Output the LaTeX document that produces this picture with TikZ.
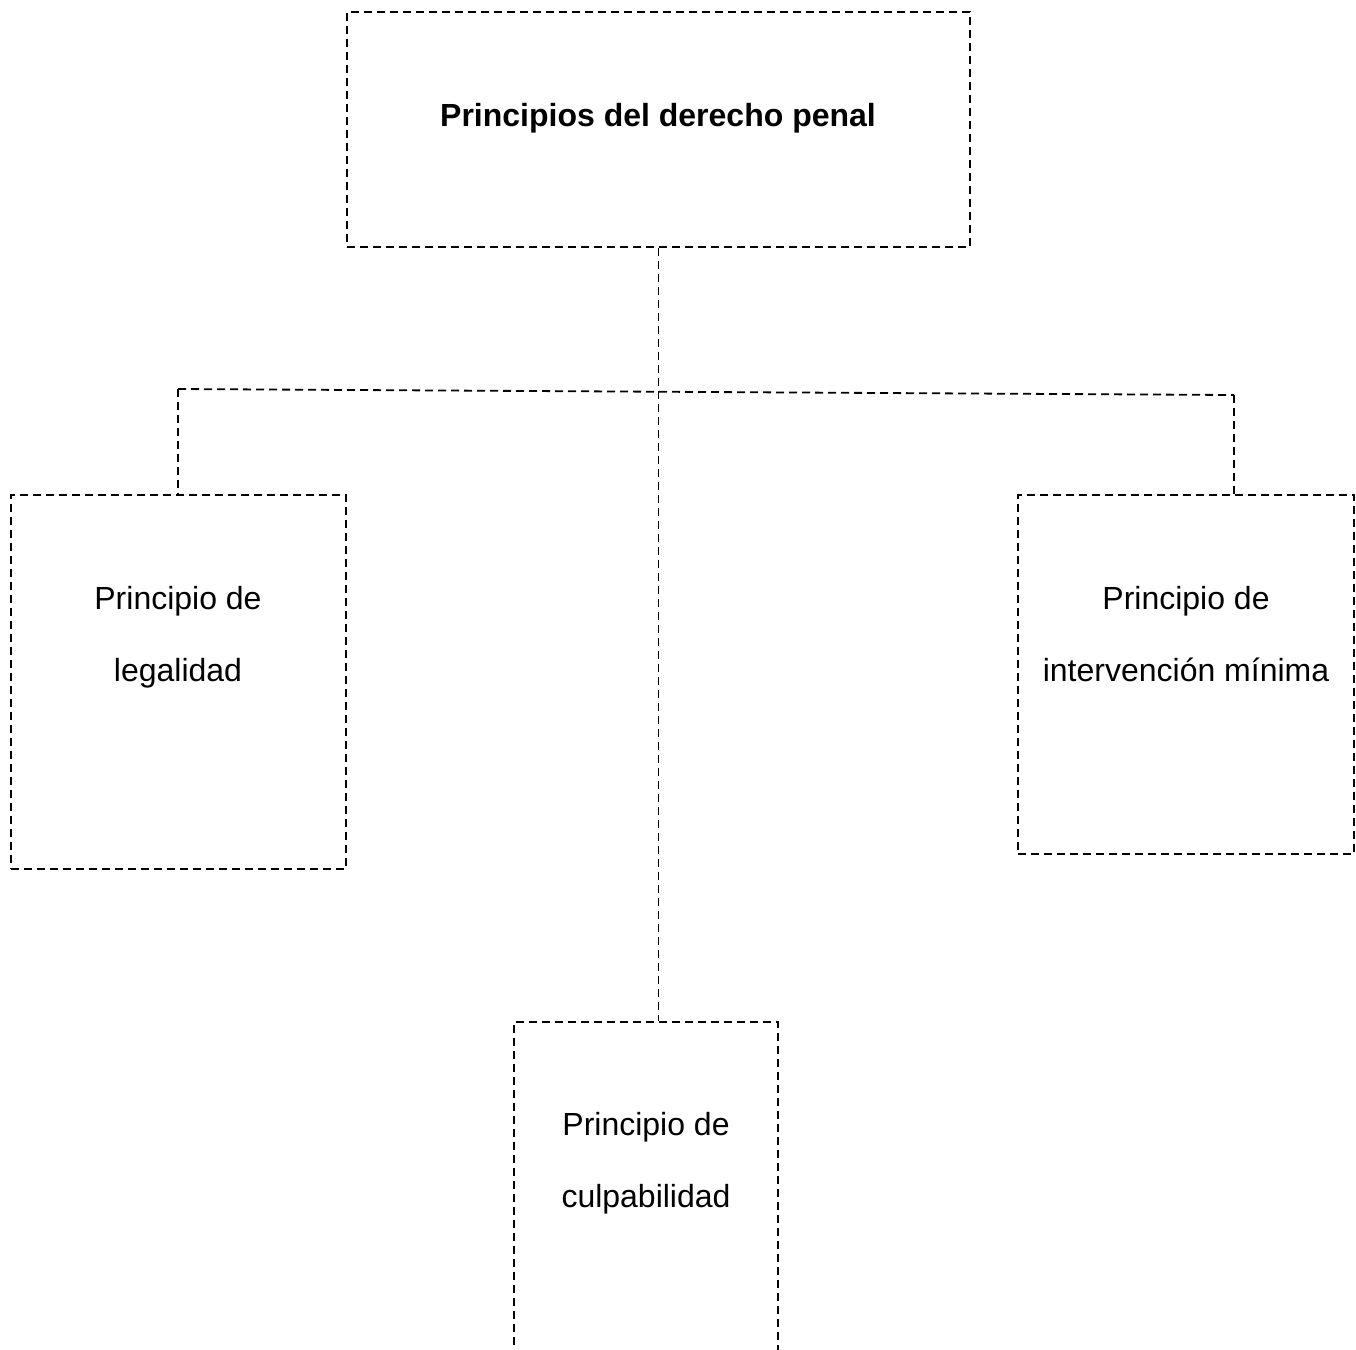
\documentclass[tikz,border=0pt]{standalone}
\usepackage{fontspec}
\setmainfont{Liberation Sans}
\usepackage{tikz}

\begin{document}
\begin{tikzpicture}[x=1pt,y=-1pt]
            \tikzstyle{box}=[rectangle,draw=black,line width=1.8pt,dash pattern=on 8pt off 5pt,minimum width=#1,inner sep=0pt]
            \tikzstyle{link}=[draw=black,line width=1.8pt,dash pattern=on 8pt off 5pt]
            \tikzstyle{txt}=[inner sep=0pt,anchor=north,align=center,font=\fontsize{32}{72}\selectfont]
                \clip (0,0) rectangle (1356,1349);
                % boxes
                \node[box=623pt,minimum height=235pt] (P-0) at (658.5, 129.5){};
                \node[box=335pt,minimum height=374pt] (P-1) at (178.5, 682){};
                \node[box=336pt,minimum height=359pt] (P-2) at (1186, 674.5){};
                \node[box=264pt,minimum height=340pt] (P-3) at (646, 1192){};
                % texts
                \node[txt,font=\fontsize{32}{40}\selectfont\bfseries] (T-0) at (658, 103){Principios del derecho penal};
                \node[txt] (T-1) at (178, 586){Principio de\\legalidad};
                \node[txt] (T-2) at (1186, 586){Principio de\\intervención mínima};
                \node[txt] (T-3) at (646, 1112){Principio de\\culpabilidad};
                % connectors
                \coordinate (J-l) at (178, 389);
                \coordinate (J-r) at (1234, 395);
                \draw[link] (J-l) -- (J-r);
                \draw[link] (J-l) -- (J-l |- P-1.north);
                \draw[link] (J-r) -- (J-r |- P-2.north);
                \draw[link] (P-0.south) -- (P-0.south |- P-3.north);
        \end{tikzpicture}
\end{document}
